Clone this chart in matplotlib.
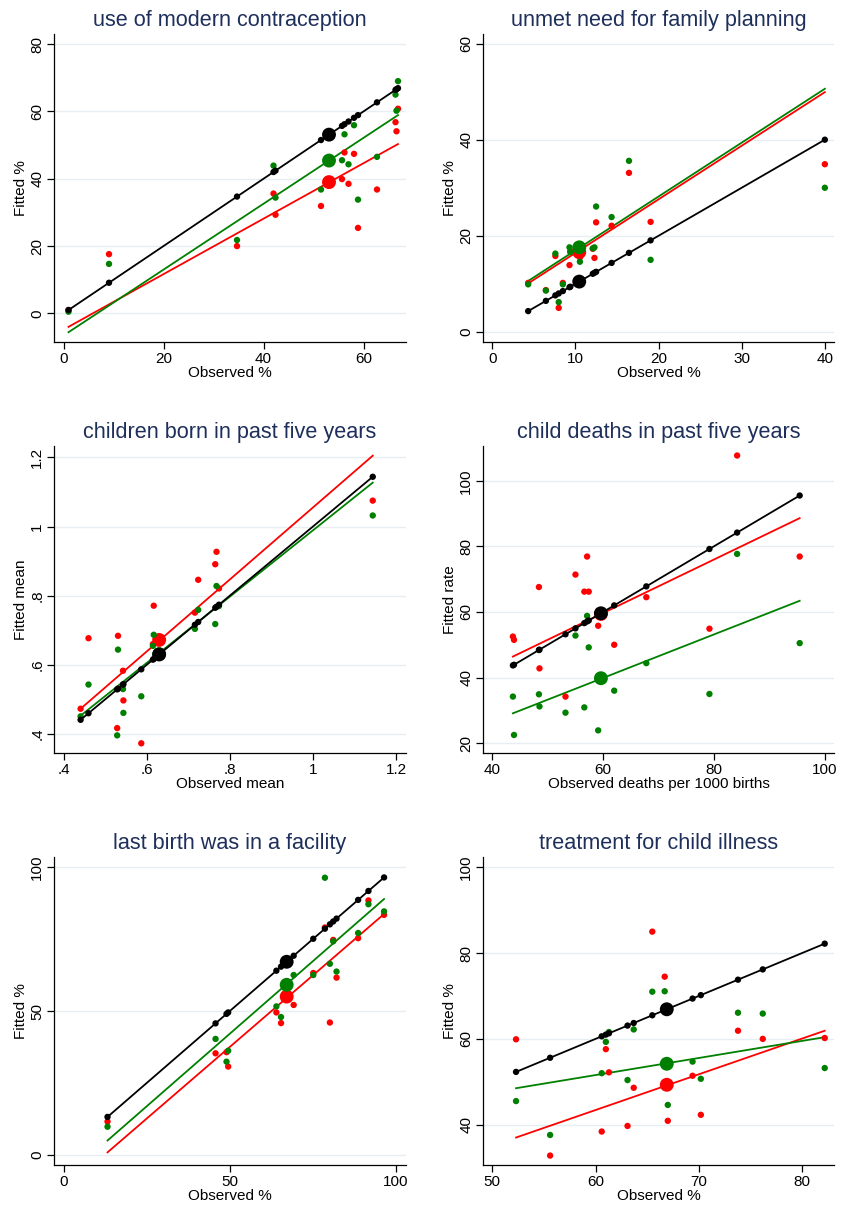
import matplotlib
matplotlib.use("Agg")
import matplotlib.pyplot as plt
import numpy as np

plt.rcParams['font.family'] = ['Liberation Sans', 'DejaVu Sans']

W, H = 842, 1212

# ---------------- data ----------------
titles = ["use of modern contraception", "unmet need for family planning",
          "children born in past five years", "child deaths in past five years",
          "last birth was in a facility", "treatment for child illness"]
xlabels = ["Observed %", "Observed %", "Observed mean",
           "Observed deaths per 1000 births", "Observed %", "Observed %"]
ylabels = ["Fitted %", "Fitted %", "Fitted mean", "Fitted rate", "Fitted %", "Fitted %"]

# panel 1
obs1 = [1.0, 9.1, 34.7, 42.0, 42.4, 51.5, 55.7, 56.2, 57.0, 58.1, 58.9, 62.7, 66.4, 66.6, 66.9]
red1 = [1.0, 17.6, 20.0, 35.6, 29.3, 31.9, 39.9, 47.8, 38.5, 47.4, 25.4, 36.8, 56.8, 54.1, 60.8]
green1 = [0.5, 14.7, 21.8, 43.9, 34.4, 36.8, 45.5, 53.2, 44.3, 55.9, 33.8, 46.5, 65.0, 60.2, 69.0]
avg1 = [53.1, 39.0, 45.4]          # observed, red fitted, green fitted
redline1 = [-4.0, 50.3]            # red fit at min / max observed
greenline1 = [-5.6, 58.9]

# panel 2
obs2 = [4.33, 6.46, 7.6, 8.0, 8.5, 9.3, 9.4, 10.55, 12.1, 12.3, 12.5, 14.36, 16.45, 19.05, 40.0]
red2 = [10.2, 8.7, 15.8, 5.0, 10.2, 13.9, 16.8, 15.5, 17.3, 15.4, 22.8, 22.1, 33.1, 22.9, 34.9]
green2 = [9.9, 8.6, 16.3, 6.2, 9.9, 17.6, 16.6, 14.6, 17.4, 17.6, 26.1, 23.9, 35.6, 15.0, 30.0]
avg2 = [10.47, 16.6, 17.6]
redline2 = [10.1, 49.9]
greenline2 = [10.6, 50.6]

# panel 3
obs3 = [0.441, 0.460, 0.529, 0.531, 0.543, 0.544, 0.587, 0.615, 0.617, 0.716, 0.724, 0.765, 0.768, 0.774, 1.144]
red3 = [0.473, 0.677, 0.417, 0.684, 0.583, 0.497, 0.373, 0.660, 0.771, 0.751, 0.846, 0.891, 0.927, 0.821, 1.075]
green3 = [0.451, 0.543, 0.396, 0.644, 0.530, 0.461, 0.509, 0.655, 0.687, 0.704, 0.759, 0.718, 0.828, 0.770, 1.032]
avg3 = [0.630, 0.672, 0.631]
redline3 = [0.473, 1.205]
greenline3 = [0.453, 1.127]

# panel 4
obs4 = [43.7, 43.9, 48.4, 48.5, 53.2, 55.0, 56.6, 57.1, 57.4, 59.1, 62.0, 67.8, 79.2, 84.2, 95.5]
red4 = [52.5, 51.5, 67.6, 42.8, 34.2, 71.4, 66.2, 76.9, 66.2, 55.8, 50.0, 64.5, 54.9, 107.7, 76.9]
green4 = [34.2, 22.5, 34.9, 31.2, 29.3, 52.8, 30.9, 58.8, 49.2, 23.9, 36.0, 44.4, 35.0, 77.7, 50.5]
avg4 = [59.6, 59.4, 39.8]
redline4 = [46.4, 88.6]
greenline4 = [29.1, 63.4]

# panel 5
obs5 = [13.2, 45.7, 49.0, 49.5, 64.0, 65.4, 69.2, 75.1, 78.6, 80.1, 81.1, 82.1, 88.6, 91.7, 96.4]
red5 = [11.6, 35.3, 35.7, 30.7, 49.5, 45.8, 52.1, 63.2, 79.0, 46.0, 74.7, 61.6, 75.3, 88.4, 83.4]
green5 = [9.8, 40.3, 32.4, 36.2, 51.6, 47.9, 62.5, 62.5, 96.3, 66.4, 74.2, 63.7, 77.1, 87.1, 84.6]
avg5 = [67.1, 55.0, 59.1]
redline5 = [0.9, 83.7]
greenline5 = [5.0, 88.9]

# panel 6
obs6 = [52.3, 55.6, 60.6, 61.0, 61.3, 63.1, 63.7, 65.5, 66.7, 67.0, 69.4, 70.2, 73.8, 76.2, 82.2]
red6 = [59.9, 32.8, 38.4, 57.6, 52.2, 39.7, 48.6, 85.0, 74.5, 40.9, 51.4, 42.3, 61.9, 60.0, 60.2]
green6 = [45.5, 37.6, 52.0, 59.3, 61.6, 50.4, 62.2, 71.0, 71.1, 44.6, 54.7, 50.7, 66.1, 65.9, 53.2]
avg6 = [66.9, 49.3, 54.2]
redline6 = [37.0, 61.9]
greenline6 = [48.5, 60.4]

xticks = [[0, 20, 40, 60], [0, 10, 20, 30, 40], [0.4, 0.6, 0.8, 1.0, 1.2],
          [40, 60, 80, 100], [0, 50, 100], [50, 60, 70, 80]]
yticks = [[0, 20, 40, 60, 80], [0, 20, 40, 60], [0.4, 0.6, 0.8, 1.0, 1.2],
          [20, 40, 60, 80, 100], [0, 50, 100], [40, 60, 80, 100]]
xticklabels = [None, None, [".4", ".6", ".8", "1", "1.2"], None, None, None]
yticklabels = [None, None, [".4", ".6", ".8", "1", "1.2"], None, None, None]
xlims = [(-1.9, 68.5), (-1.1, 41.1), (0.377, 1.224), (38.3, 101.7), (-2.9, 103), (49.1, 83.1)]
ylims = [(-8.5, 83), (-2.1, 62), (0.345, 1.233), (17.0, 110.6), (-3.5, 103.5), (30.6, 102.4)]

panels = [
    (obs1, red1, green1, avg1, redline1, greenline1),
    (obs2, red2, green2, avg2, redline2, greenline2),
    (obs3, red3, green3, avg3, redline3, greenline3),
    (obs4, red4, green4, avg4, redline4, greenline4),
    (obs5, red5, green5, avg5, redline5, greenline5),
    (obs6, red6, green6, avg6, redline6, greenline6),
]

# ---------------- layout (pixels) ----------------
col_lr = [(54, 406), (483, 834)]
row_tb = [(34, 342), (446, 753), (857, 1165)]

RED = "#ff0000"
GREEN = "#008000"
BLACK = "#000000"
TITLE_C = "#1e2f5b"
GRID_C = "#e6eef1"

fig = plt.figure(figsize=(W / 100, H / 100), dpi=100)

for i, (obs, red, green, avg, rl, gl) in enumerate(panels):
    r, c = divmod(i, 2)
    l, rr = col_lr[c]
    t, b = row_tb[r]
    ax = fig.add_axes([l / W, 1 - b / H, (rr - l) / W, (b - t) / H])
    obs = np.asarray(obs)
    order = np.argsort(obs)
    xmin, xmax = obs.min(), obs.max()

    ax.plot([xmin, xmax], rl, color=RED, lw=1.3, zorder=2)
    ax.plot([xmin, xmax], gl, color=GREEN, lw=1.3, zorder=2.1)
    ax.scatter(obs, red, s=21, color=RED, edgecolors='none', zorder=3)
    ax.scatter([avg[0]], [avg[1]], s=100, color=RED, edgecolors='none', zorder=3)
    ax.scatter(obs, green, s=21, color=GREEN, edgecolors='none', zorder=3.1)
    ax.scatter([avg[0]], [avg[2]], s=100, color=GREEN, edgecolors='none', zorder=3.1)
    ax.plot(obs[order], obs[order], color=BLACK, lw=1.3, zorder=4)
    ax.scatter(obs, obs, s=21, color=BLACK, edgecolors='none', zorder=4.1)
    ax.scatter([avg[0]], [avg[0]], s=100, color=BLACK, edgecolors='none', zorder=4.1)

    ax.set_xlim(*xlims[i])
    ax.set_ylim(*ylims[i])
    ax.set_xticks(xticks[i])
    ax.set_yticks(yticks[i])
    if xticklabels[i]:
        ax.set_xticklabels(xticklabels[i])
    if yticklabels[i]:
        ax.set_yticklabels(yticklabels[i])
    for lab in ax.get_yticklabels():
        lab.set_rotation(90)
        lab.set_va('center')
    ax.tick_params(axis='both', direction='out', length=5, width=0.9,
                   labelsize=11, pad=2, colors='#000000')
    ax.yaxis.grid(True, color=GRID_C, lw=1.0, zorder=0)
    ax.set_axisbelow(True)
    for sp in ['top', 'right']:
        ax.spines[sp].set_visible(False)
    for sp in ['left', 'bottom']:
        ax.spines[sp].set_linewidth(0.9)
    ax.set_xlabel(xlabels[i], fontsize=11, labelpad=0)
    ax.set_ylabel(ylabels[i], fontsize=11, labelpad=2)
    ax.set_title(titles[i], fontsize=15.6, color=TITLE_C, pad=6)

fig.savefig("out.png", dpi=100, facecolor='white')
